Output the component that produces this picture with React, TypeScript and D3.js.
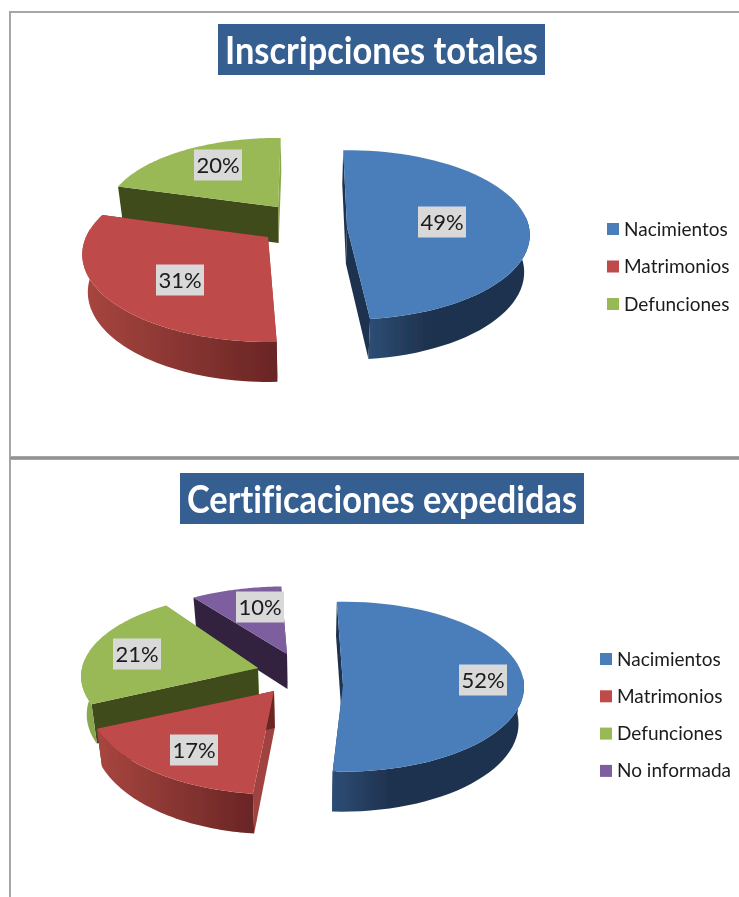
import React from "react";
import * as d3 from "d3";

const WIDTH = 739;
const HEIGHT = 897;
const FONT = "Lato, 'Open Sans', sans-serif";

const categories1 = ["Nacimientos", "Matrimonios", "Defunciones"];
const values1 = [49, 31, 20];
const categories2 = ["Nacimientos", "Matrimonios", "Defunciones", "No informada"];
const values2 = [52, 17, 21, 10];

const topColors = ["#4a7ebb", "#be4b48", "#98b954", "#7d5fa0"];
const litColors = ["#2c4a70", "#a04340", "#8aa64c", "#5f4a7a"];
const darkColors = ["#1f3350", "#6b2524", "#3f4c1e", "#33243f"];
const wallFrom = ["#2d4d74", "#a8463f", "#8fab4f", "#5f4a7a"];
const wallTo = ["#1f3350", "#6a2525", "#8aa64c", "#33243f"];

type SliceLayout = {
  ax: number; ay: number; rx: number; ry: number; k: number;
  trim0: number; trim1: number; depth: number; labelX: number; labelY: number;
};

const layout1: SliceLayout[] = [
  { ax: 347, ay: 227, rx: 182, ry: 84, k: 0.094, trim0: 0.7, trim1: -1, depth: 37, labelX: 442, labelY: 222 },
  { ax: 268, ay: 237, rx: 182, ry: 84, k: 0.2, trim0: 3.4, trim1: 0, depth: 37, labelX: 180, labelY: 280 },
  { ax: 278, ay: 207, rx: 171, ry: 76, k: 0.1, trim0: 0, trim1: 3, depth: 36, labelX: 218, labelY: 165 },
];
const layout2: SliceLayout[] = [
  { ax: 343, ay: 685, rx: 181, ry: 85, k: 0.02, trim0: 0, trim1: -2, depth: 37, labelX: 483, labelY: 680 },
  { ax: 274, ay: 691, rx: 186, ry: 95, k: 0.08, trim0: 0.8, trim1: 1, depth: 37, labelX: 194, labelY: 750 },
  { ax: 258, ay: 668, rx: 176, ry: 82, k: 0.1, trim0: -1.5, trim1: 3.5, depth: 38, labelX: 137, labelY: 654 },
  { ax: 287, ay: 654, rx: 176, ry: 73, k: 0.08, trim0: 3.5, trim1: 0, depth: 35, labelX: 260, labelY: 607 },
];

const DEG = Math.PI / 180;

function PieChart({ id, values, slices, order, vx }: { id: string; values: number[]; slices: SliceLayout[]; order: number[]; vx: number }) {
  const arcs = d3.pie<number>().sort(null).startAngle(-2 * DEG).endAngle(358 * DEG)(values);
  const lineGen = d3.line<[number, number]>();

  const parts = arcs.map((a, i) => {
    const s = slices[i];
    const top = (t: number, r: number): [number, number] => {
      const u = Math.sin(t) * r, v = Math.cos(t) * r;
      const p = 1 / (1 + s.k * v);
      return [s.ax + s.rx * u * p, s.ay - s.ry * v * p];
    };
    const bottom = (t: number, r: number): [number, number] => {
      const [x, y] = top(t, r);
      const v = Math.cos(t) * r;
      return [vx + (x - vx) * 0.975, y + s.depth * (1 - 0.08 * v)];
    };
    const t0 = a.startAngle + s.trim0 * DEG;
    const t1 = a.endAngle + s.trim1 * DEG;
    const ts = d3.range(0, 61).map((n) => t0 + ((t1 - t0) * n) / 60);
    const nearTs = ts.filter((t) => Math.cos(t) < 0.12);
    const apexT: [number, number] = top(0, 0);
    const apexB: [number, number] = bottom(0, 0);
    const topPath = lineGen([apexT, ...ts.map((t) => top(t, 1))]) + "Z";
    const wallPath = nearTs.length
      ? lineGen([...nearTs.map((t) => top(t, 1)), ...nearTs.slice().reverse().map((t) => bottom(t, 1))]) + "Z"
      : "";
    const startFace = { d: lineGen([top(t0, 1), apexT, apexB, bottom(t0, 1)]) + "Z", lit: -Math.cos(t0) > 0.7 };
    const endFace = { d: lineGen([top(t1, 1), apexT, apexB, bottom(t1, 1)]) + "Z", lit: Math.cos(t1) > 0.7 };
    const xs = (nearTs.length ? nearTs : ts).map((t) => top(t, 1)[0]);
    return {
      i, topPath, wallPath,
      // lit faces point away from the viewer's side, so the dark ones are painted over them
      faces: [startFace, endFace].sort((p, q) => Number(q.lit) - Number(p.lit)),
      gradX0: d3.min(xs) as number,
      gradX1: d3.max(xs) as number,
    };
  });

  return (
    <g>
      <defs>
        {parts.map((p) => (
          <linearGradient key={p.i} id={`${id}-wall-${p.i}`} gradientUnits="userSpaceOnUse"
            x1={p.gradX0} x2={p.i === 0 ? p.gradX0 + 55 : p.gradX1} y1={0} y2={0}>
            <stop offset="0" stopColor={wallFrom[p.i]} />
            <stop offset="1" stopColor={wallTo[p.i]} />
          </linearGradient>
        ))}
      </defs>
      {order.map((idx) => {
        const p = parts[idx];
        return (
          <g key={idx}>
            {p.faces.map((f, n) => (
              <path key={n} d={f.d} fill={f.lit ? litColors[idx] : darkColors[idx]} />
            ))}
            <path d={p.wallPath} fill={`url(#${id}-wall-${idx})`} />
            <path d={p.topPath} fill={topColors[idx]} />
          </g>
        );
      })}
      {arcs.map((a, i) => (
        <g key={i}>
          <rect x={slices[i].labelX - 24} y={slices[i].labelY - 15.5} width={48} height={31} fill="#d9d9d9" />
          <text x={slices[i].labelX} y={slices[i].labelY + 8} textAnchor="middle" fontFamily={FONT} fontSize={22} fill="#1a1a1a">
            {`${a.data}%`}
          </text>
        </g>
      ))}
    </g>
  );
}

function Legend({ names, x, y, step }: { names: string[]; x: number; y: number; step: number }) {
  const pos = d3.scaleLinear().domain([0, 1]).range([y, y + step]);
  return (
    <g>
      {names.map((n, i) => (
        <g key={n}>
          <rect x={x} y={pos(i) - 6} width={12} height={12} fill={topColors[i]} />
          <text x={x + 17} y={pos(i) + 6.5} fontFamily={FONT} fontSize={19} fill="#1a1a1a">{n}</text>
        </g>
      ))}
    </g>
  );
}

function Title({ text, x0, x1, y0, y1 }: { text: string; x0: number; x1: number; y0: number; y1: number }) {
  return (
    <g>
      <rect x={x0} y={y0} width={x1 - x0} height={y1 - y0} fill="#365f91" />
      <text x={(x0 + x1) / 2} y={y0 + 40} textAnchor="middle" fontFamily={FONT} fontWeight={700} fontSize={38} fill="#ffffff"
        textLength={x1 - x0 - 14} lengthAdjust="spacingAndGlyphs" style={{ fontVariantLigatures: "none" }}>
        {text}
      </text>
    </g>
  );
}

export default function App() {
  return (
    <svg width={WIDTH} height={HEIGHT} viewBox={`0 0 ${WIDTH} ${HEIGHT}`}
      style={{ position: "absolute", left: 0, top: 0, display: "block", background: "#fff" }}>
      <defs>
        <filter id="soft" x="0" y="0" width="100%" height="100%">
          <feGaussianBlur stdDeviation="0.45" />
        </filter>
      </defs>
      <g filter="url(#soft)">
        <rect x={0} y={0} width={WIDTH} height={HEIGHT} fill="#fff" />
        <line x1={9} x2={WIDTH} y1={12} y2={12} stroke="#a6a6a6" strokeWidth={2} />
        <line x1={10} x2={10} y1={12} y2={HEIGHT} stroke="#a6a6a6" strokeWidth={2} />
        <line x1={10} x2={WIDTH} y1={458} y2={458} stroke="#a6a6a6" strokeWidth={4} />
        <line x1={10} x2={WIDTH} y1={458} y2={458} stroke="#8c8c8c" strokeWidth={1.5} />
        <Title text="Inscripciones totales" x0={218} x1={545} y0={24} y1={75} />
        <PieChart id="a" values={values1} slices={layout1} order={[2, 1, 0]} vx={305} />
        <Legend names={categories1} x={607} y={229} step={37.5} />
        <Title text="Certificaciones expedidas" x0={180} x1={584} y0={473} y1={524} />
        <PieChart id="b" values={values2} slices={layout2} order={[0, 3, 2, 1]} vx={305} />
        <Legend names={categories2} x={600} y={659} step={37.3} />
      </g>
    </svg>
  );
}
